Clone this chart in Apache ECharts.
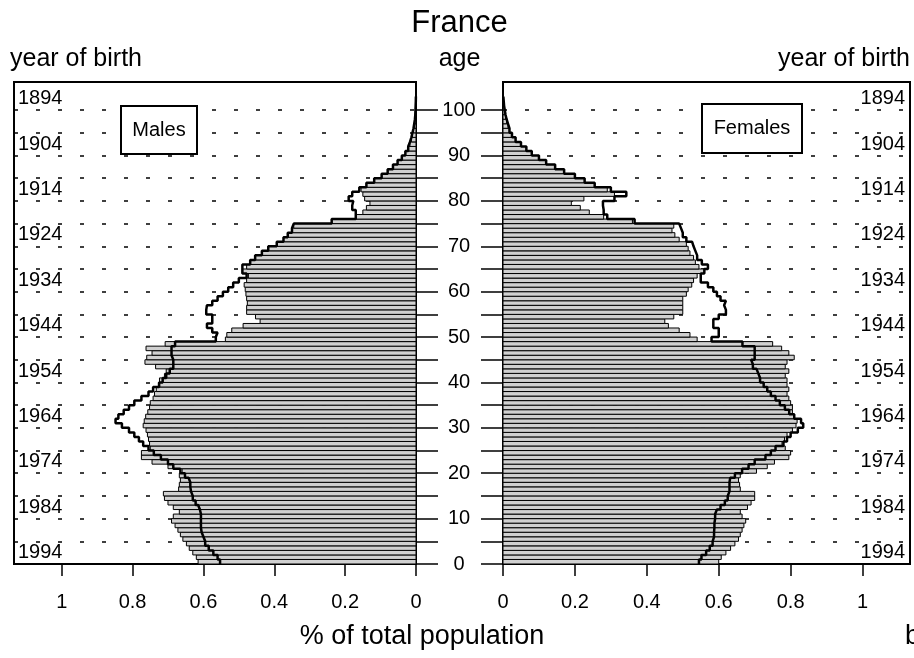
<!DOCTYPE html>
<html>
<head>
<meta charset="utf-8">
<script src="https://cdn.jsdelivr.net/npm/echarts@6/dist/echarts.min.js"></script>
<style>
html,body{margin:0;padding:0;background:#fff;}
#c{width:914px;height:658px;}
</style>
</head>
<body>
<div id="c"></div>
<script>
// ---- data (percent of total population, by single year of age) ----
const ages = [0,1,2,3,4,5,6,7,8,9,10,11,12,13,14,15,16,17,18,19,20,21,22,23,24,25,26,27,28,29,30,31,32,33,34,35,36,37,38,39,40,41,42,43,44,45,46,47,48,49,50,51,52,53,54,55,56,57,58,59,60,61,62,63,64,65,66,67,68,69,70,71,72,73,74,75,76,77,78,79,80,81,82,83,84,85,86,87,88,89,90,91,92,93,94,95,96,97,98,99,100,101,102];

const maleBars = [0.615,0.62,0.63,0.64,0.648,0.658,0.665,0.672,0.68,0.69,
  0.685,0.668,0.685,0.70,0.71,0.713,0.67,0.668,0.665,0.668,
  0.66,0.70,0.745,0.775,0.775,0.75,0.752,0.755,0.758,0.762,
  0.77,0.767,0.763,0.757,0.752,0.75,0.742,0.738,0.733,0.727,
  0.724,0.71,0.705,0.735,0.765,0.76,0.745,0.762,0.708,0.538,
  0.534,0.52,0.488,0.44,0.453,0.478,0.478,0.476,0.478,0.48,
  0.482,0.485,0.478,0.473,0.49,0.478,0.468,0.454,0.435,0.417,
  0.393,0.374,0.362,0.35,0.345,0.238,0.17,0.15,0.14,0.13,
  0.145,0.15,0.155,0.14,0.118,0.097,0.08,0.065,0.052,0.04,
  0.03,0.022,0.017,0.013,0.01,0.007,0.005,0.003,0.002,0.0015,
  0.001,0.0005,0.0003];

const maleOutline = [0.553,0.56,0.572,0.585,0.595,0.60,0.605,0.607,0.607,0.607,
  0.607,0.61,0.615,0.622,0.63,0.635,0.637,0.637,0.642,0.652,
  0.665,0.685,0.70,0.72,0.74,0.755,0.77,0.782,0.795,0.81,
  0.83,0.848,0.84,0.825,0.81,0.795,0.775,0.755,0.742,0.725,
  0.715,0.705,0.695,0.685,0.685,0.69,0.69,0.69,0.68,0.565,
  0.56,0.575,0.59,0.575,0.575,0.592,0.59,0.575,0.56,0.545,
  0.53,0.516,0.50,0.478,0.49,0.49,0.468,0.454,0.435,0.417,
  0.393,0.374,0.362,0.35,0.345,0.238,0.17,0.17,0.18,0.177,
  0.19,0.18,0.16,0.14,0.118,0.097,0.08,0.065,0.052,0.04,
  0.03,0.022,0.017,0.013,0.01,0.007,0.005,0.003,0.002,0.0015,
  0.001,0.0005,0.0003];

const femaleBars = [0.60,0.607,0.62,0.633,0.645,0.655,0.66,0.665,0.67,0.675,
  0.665,0.66,0.68,0.69,0.70,0.70,0.66,0.658,0.655,0.66,
  0.705,0.735,0.755,0.795,0.80,0.785,0.776,0.783,0.79,0.805,
  0.815,0.818,0.81,0.805,0.805,0.80,0.795,0.79,0.795,0.79,
  0.79,0.785,0.795,0.785,0.79,0.81,0.795,0.775,0.75,0.54,
  0.52,0.49,0.46,0.45,0.475,0.50,0.50,0.50,0.50,0.51,
  0.515,0.525,0.53,0.54,0.56,0.545,0.535,0.53,0.52,0.515,
  0.51,0.49,0.478,0.47,0.475,0.36,0.28,0.24,0.215,0.19,
  0.225,0.31,0.29,0.255,0.227,0.2,0.17,0.145,0.12,0.1,
  0.08,0.065,0.05,0.035,0.025,0.018,0.014,0.01,0.007,0.005,
  0.003,0.002,0.001];

const femaleOutline = [0.545,0.552,0.565,0.575,0.583,0.587,0.587,0.588,0.588,0.59,
  0.59,0.595,0.605,0.617,0.625,0.63,0.63,0.63,0.632,0.645,
  0.665,0.683,0.70,0.73,0.745,0.758,0.78,0.79,0.80,0.82,
  0.835,0.829,0.81,0.796,0.784,0.77,0.758,0.745,0.735,0.725,
  0.715,0.71,0.705,0.695,0.69,0.70,0.70,0.70,0.666,0.58,
  0.60,0.60,0.585,0.585,0.60,0.62,0.615,0.62,0.605,0.595,
  0.585,0.57,0.55,0.55,0.56,0.57,0.553,0.54,0.535,0.53,
  0.526,0.51,0.50,0.495,0.49,0.366,0.29,0.28,0.278,0.278,
  0.31,0.343,0.30,0.255,0.227,0.2,0.17,0.145,0.12,0.1,
  0.08,0.065,0.05,0.035,0.025,0.018,0.014,0.01,0.007,0.005,
  0.003,0.002,0.001];

// ---- tick labels ----
const xTicks = [0, 0.2, 0.4, 0.6, 0.8, 1];
const ageLabels = [0,10,20,30,40,50,60,70,80,90,100];
const ageTicks = [0,5,10,15,20,25,30,35,40,45,50,55,60,65,70,75,80,85,90,95,100];
const yearLabels = [1894,1904,1914,1924,1934,1944,1954,1964,1974,1984,1994];
const surveyYear = 1996.5;   // year of birth = surveyYear - age (for label placement)
const ageMax = 106.2;

const FONT = '"Liberation Sans", Arial, Helvetica, sans-serif';

function barPairs(vals){ return ages.map((a,i)=>[vals[i], a]); }
function stepPairs(vals){
  const pts = [];
  ages.forEach((a,i)=>{ pts.push([vals[i], a]); pts.push([vals[i], a+1]); });
  pts.push([0, ages[ages.length-1]+1]);
  return pts;
}
function renderBar(params, api){
  const v = api.value(0), a = api.value(1);
  const p0 = api.coord([0, a]);
  const p1 = api.coord([v, a+1]);
  return {
    type:'rect',
    shape:{x:Math.min(p0[0],p1[0]), y:p1[1], width:Math.abs(p1[0]-p0[0]), height:p0[1]-p1[1]},
    style:{fill:'#d0d0d0', stroke:'#000', lineWidth:1}
  };
}

const dashed = {show:true, lineStyle:{color:'#000', width:1.5, type:[4,18]}};
const lbl = {color:'#000', fontSize:20, fontFamily:FONT};
const plain = v => String(v);

const chart = echarts.init(document.getElementById('c'), null, {renderer:'canvas'});
chart.setOption({
  animation:false,
  backgroundColor:'#fff',
  grid:[
    {left:14, top:82, width:402, height:482, show:true, borderColor:'#000', borderWidth:2, backgroundColor:'transparent'},
    {left:503, top:82, width:407, height:482, show:true, borderColor:'#000', borderWidth:2, backgroundColor:'transparent'}
  ],
  xAxis:[
    {type:'value', gridIndex:0, inverse:true, min:0, max:1.1346,
     axisLine:{show:false},
     axisTick:{show:true, customValues:xTicks, length:12, lineStyle:{color:'#000', width:1.5}},
     axisLabel:Object.assign({customValues:xTicks, margin:28, formatter:plain}, lbl),
     splitLine:{show:false}},
    {type:'value', gridIndex:1, min:0, max:1.132,
     axisLine:{show:false},
     axisTick:{show:true, customValues:xTicks, length:12, lineStyle:{color:'#000', width:1.5}},
     axisLabel:Object.assign({customValues:xTicks, margin:28, formatter:plain}, lbl),
     splitLine:{show:false}}
  ],
  yAxis:[
    {type:'value', gridIndex:0, position:'right', min:0, max:ageMax,
     axisLine:{show:true, lineStyle:{color:'#000', width:2}},
     axisTick:{show:true, customValues:ageTicks, length:22, lineStyle:{color:'#000', width:1.5}},
     axisLabel:Object.assign({customValues:ageLabels, margin:43, align:'center', formatter:plain}, lbl),
     splitLine:dashed},
    {type:'value', gridIndex:0, position:'left', inverse:true, min:surveyYear-ageMax, max:surveyYear,
     axisLine:{show:false}, axisTick:{show:false},
     axisLabel:Object.assign({customValues:yearLabels, inside:true, margin:4, align:'left', formatter:plain}, lbl),
     splitLine:{show:false}},
    {type:'value', gridIndex:1, position:'left', min:0, max:ageMax,
     axisLine:{show:true, lineStyle:{color:'#000', width:2}},
     axisTick:{show:true, customValues:ageTicks, length:22, lineStyle:{color:'#000', width:1.5}},
     axisLabel:{show:false},
     splitLine:dashed},
    {type:'value', gridIndex:1, position:'right', inverse:true, min:surveyYear-ageMax, max:surveyYear,
     axisLine:{show:false}, axisTick:{show:false},
     axisLabel:Object.assign({customValues:yearLabels, inside:true, margin:5, align:'right', formatter:plain}, lbl),
     splitLine:{show:false}}
  ],
  series:[
    {type:'custom', name:'Males', xAxisIndex:0, yAxisIndex:0, renderItem:renderBar,
     encode:{x:0, y:1}, data:barPairs(maleBars), z:2},
    {type:'line', name:'Males outline', xAxisIndex:0, yAxisIndex:0, data:stepPairs(maleOutline),
     showSymbol:false, symbol:'none', lineStyle:{color:'#000', width:2.5}, z:3},
    {type:'custom', name:'Females', xAxisIndex:1, yAxisIndex:2, renderItem:renderBar,
     encode:{x:0, y:1}, data:barPairs(femaleBars), z:2},
    {type:'line', name:'Females outline', xAxisIndex:1, yAxisIndex:2, data:stepPairs(femaleOutline),
     showSymbol:false, symbol:'none', lineStyle:{color:'#000', width:2.5}, z:3}
  ],
  graphic:{
    z:100,
    elements:[
      {type:'text', x:459.5, y:23, style:{text:'France', font:'31px '+FONT, fill:'#000', textVerticalAlign:'middle', textAlign:'center'}},
      {type:'text', x:10, y:59, style:{text:'year of birth', font:'25px '+FONT, fill:'#000', textVerticalAlign:'middle', textAlign:'left'}},
      {type:'text', x:459.5, y:59, style:{text:'age', font:'25px '+FONT, fill:'#000', textVerticalAlign:'middle', textAlign:'center'}},
      {type:'text', x:910, y:59, style:{text:'year of birth', font:'25px '+FONT, fill:'#000', textVerticalAlign:'middle', textAlign:'right'}},
      {type:'text', x:422, y:637, style:{text:'% of total population', font:'27px '+FONT, fill:'#000', textVerticalAlign:'middle', textAlign:'center'}},
      {type:'text', x:905, y:637, style:{text:'b', font:'27px '+FONT, fill:'#000', textVerticalAlign:'middle', textAlign:'left'}},
      {type:'rect', z:100, shape:{x:121, y:106, width:76, height:48}, style:{fill:'#fff', stroke:'#000', lineWidth:2}},
      {type:'text', z:101, x:159, y:130, style:{text:'Males', font:'20px '+FONT, fill:'#000', textAlign:'center', textVerticalAlign:'middle'}},
      {type:'rect', z:100, shape:{x:702, y:104, width:100, height:49}, style:{fill:'#fff', stroke:'#000', lineWidth:2}},
      {type:'text', z:101, x:752, y:128.5, style:{text:'Females', font:'20px '+FONT, fill:'#000', textAlign:'center', textVerticalAlign:'middle'}}
    ]
  }
});
</script>
</body>
</html>
